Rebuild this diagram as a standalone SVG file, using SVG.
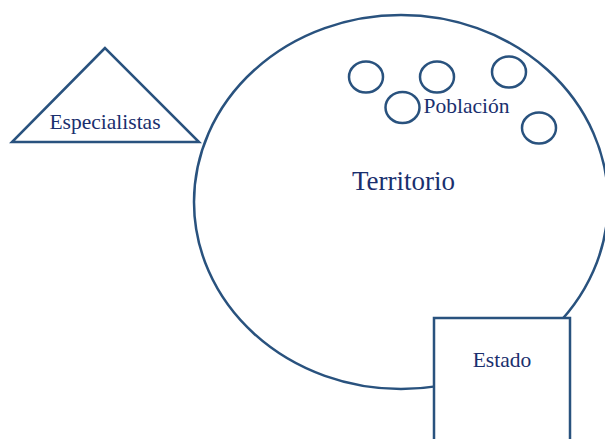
<svg xmlns="http://www.w3.org/2000/svg" width="605" height="439" viewBox="0 0 605 439">
<style>
.s{fill:#fff;stroke:#29527e;stroke-width:2.5}
.t{font-family:"Liberation Serif",serif;fill:#1a2f6e;font-size:21.5px}
</style>
<rect width="605" height="439" fill="#fff"/>
<g id="territorio">
<ellipse class="s" cx="401" cy="202" rx="207" ry="187"/>
<text class="t" x="403.5" y="190" style="font-size:27px" text-anchor="middle">Territorio</text>
</g>
<g id="poblacion">
<ellipse class="s" cx="366" cy="77" rx="17" ry="15.5"/>
<ellipse class="s" cx="437" cy="77" rx="17" ry="15.5"/>
<ellipse class="s" cx="509" cy="72" rx="17" ry="15.5"/>
<ellipse class="s" cx="402.5" cy="107.5" rx="17" ry="15.5"/>
<ellipse class="s" cx="539" cy="128" rx="17" ry="15.5"/>
<text class="t" x="466.5" y="113" text-anchor="middle">Población</text>
</g>
<g id="especialistas">
<polygon class="s" points="105,48 12,142 199,142"/>
<text class="t" x="105" y="129" text-anchor="middle">Especialistas</text>
</g>
<g id="estado">
<rect class="s" x="434" y="318" width="136" height="130"/>
<text class="t" x="502" y="367" text-anchor="middle">Estado</text>
</g>
<g id="connectors"></g>
</svg>
